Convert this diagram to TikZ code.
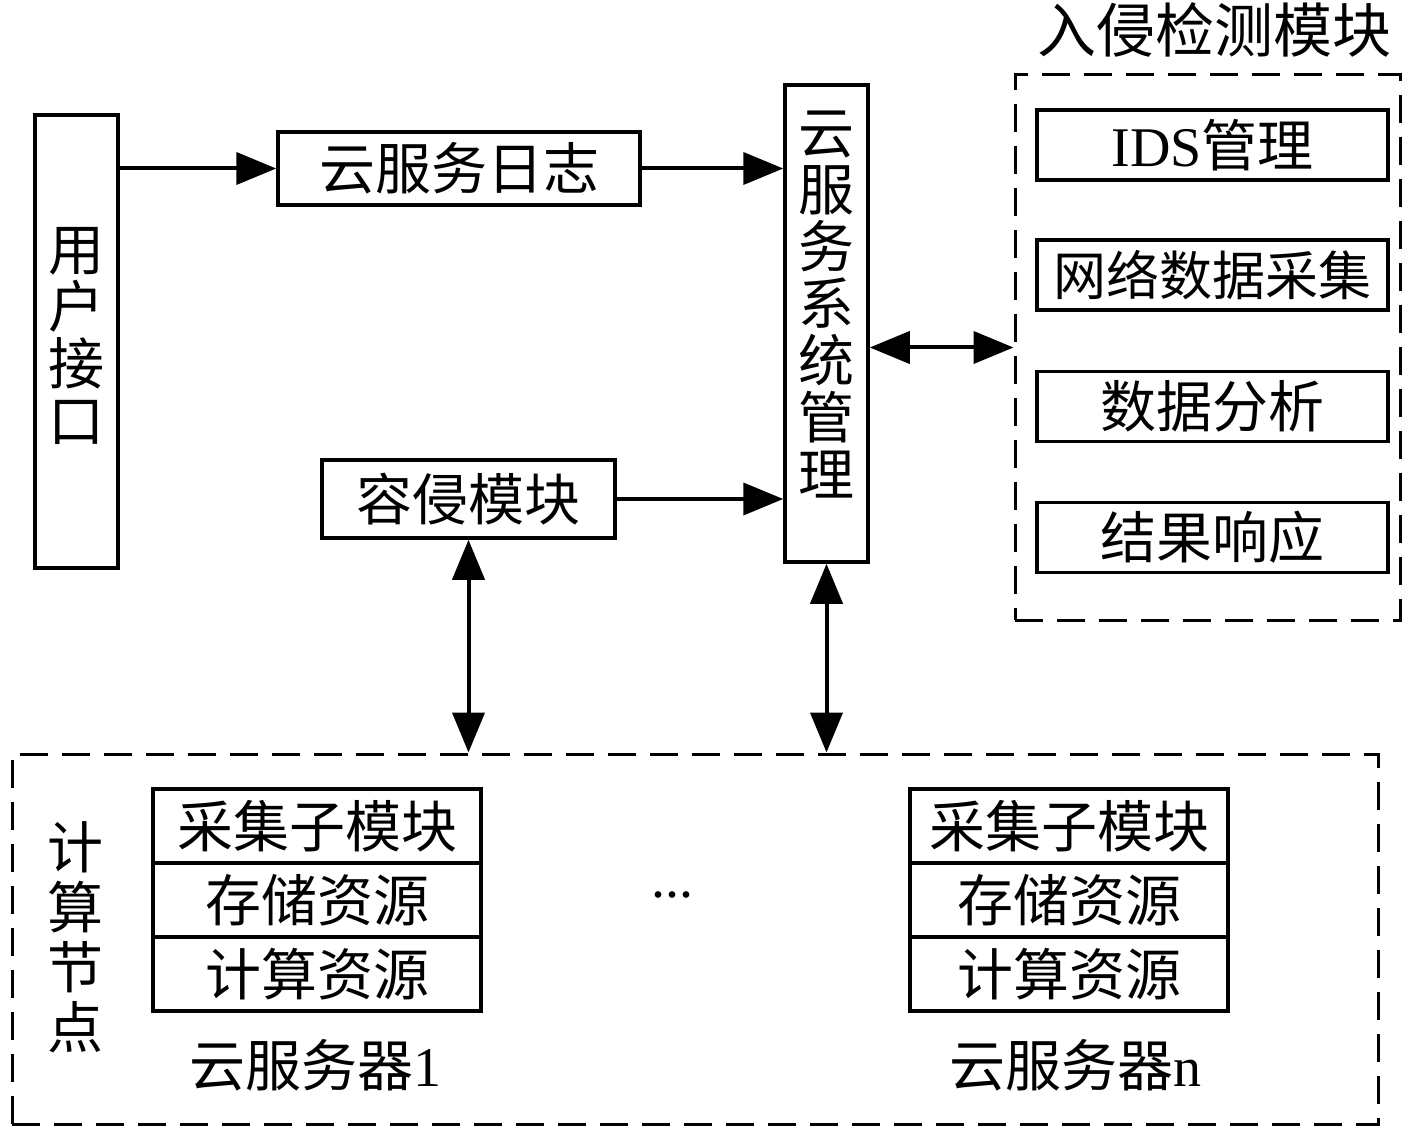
\documentclass[tikz,border=0pt]{standalone}
\usepackage{fontspec}
\setmainfont{Noto Sans CJK SC}
\newfontfamily\lat{Liberation Serif}
\usetikzlibrary{arrows.meta}
\begin{document}
\begin{tikzpicture}[x=0.5pt,y=-0.5pt,
  box/.style={draw, line width=1.75pt, inner sep=0pt, align=center, font=\fontsize{28}{28.5}\selectfont},
  frame/.style={draw, line width=1.5pt, dash pattern=on 14pt off 7pt, inner sep=0pt},
  lbl/.style={inner sep=0pt, align=center, font=\fontsize{28}{28.5}\selectfont},
  arr/.style={line width=2pt, -{Triangle[length=20pt,width=16pt]}},
  darr/.style={line width=2pt, {Triangle[length=20pt,width=16pt]}-{Triangle[length=20pt,width=16pt]}}]
\useasboundingbox (0,0) rectangle (1417,1133);
% top part
\node[box, minimum width=41.5pt, minimum height=226.5pt] (ui) at (76.5,341.5) {};
\node[lbl] (uitxt) at (76.5,336) {用\\户\\接\\口};
\node[box, minimum width=181pt, minimum height=36.5pt] (log) at (459,168.5) {云服务日志};
\node[box, minimum width=41.5pt, minimum height=238.5pt] (mgmt) at (826.5,323.5) {};
\node[lbl] (mgmttxt) at (826.5,305) {云\\服\\务\\系\\统\\管\\理};
\node[box, minimum width=146.5pt, minimum height=39pt] (rq) at (468.5,499) {容侵模块};
% intrusion detection module
\node[frame, minimum width=192.5pt, minimum height=272.5pt] (ids) at (1207.5,347.5) {};
\node[lbl, anchor=east, font=\fontsize{29.5}{30}\selectfont] (idslbl) at (1392,30) {入侵检测模块};
\node[box, minimum width=175.5pt, minimum height=35pt] (i1) at (1212.5,145) {{\lat IDS}管理};
\node[box, minimum width=175.5pt, minimum height=35pt, font=\fontsize{26.5}{28}\selectfont] (i2) at (1212.5,275) {网络数据采集};
\node[box, minimum width=175.5pt, minimum height=35pt] (i3) at (1212.5,406.5) {数据分析};
\node[box, minimum width=175.5pt, minimum height=35pt] (i4) at (1212.5,537.5) {结果响应};
% compute nodes
\node[frame, minimum width=683pt, minimum height=185pt] (bot) at (695,939) {};
\node[lbl, font=\fontsize{28}{30}\selectfont] (cn) at (75,937) {计\\算\\节\\点};
\node[box, minimum width=164pt, minimum height=37pt] (a1) at (317,826) {采集子模块};
\node[box, minimum width=164pt, minimum height=37pt] (a2) at (317,900) {存储资源};
\node[box, minimum width=164pt, minimum height=37pt] (a3) at (317,974) {计算资源};
\node[lbl] (s1) at (315,1065) {云服务器{\lat 1}};
\node[box, minimum width=159pt, minimum height=37pt] (b1) at (1069,826) {采集子模块};
\node[box, minimum width=159pt, minimum height=37pt] (b2) at (1069,900) {存储资源};
\node[box, minimum width=159pt, minimum height=37pt] (b3) at (1069,974) {计算资源};
\node[lbl] (sn) at (1075,1065) {云服务器{\lat n}};
\node[lbl, font=\lat\fontsize{28}{28}\selectfont] (dots) at (672,895) {...};
% connectors
\draw[arr] (ui.east |- log.west) -- (log.west);
\draw[arr] (log.east) -- (mgmt.west |- log.east);
\draw[arr] (rq.east) -- (mgmt.west |- rq.east);
\draw[darr] (mgmt.east |- ids.west) -- (ids.west);
\draw[darr] (rq.south) -- (rq.south |- bot.north);
\draw[darr] (mgmt.south) -- (mgmt.south |- bot.north);
\end{tikzpicture}
\end{document}
